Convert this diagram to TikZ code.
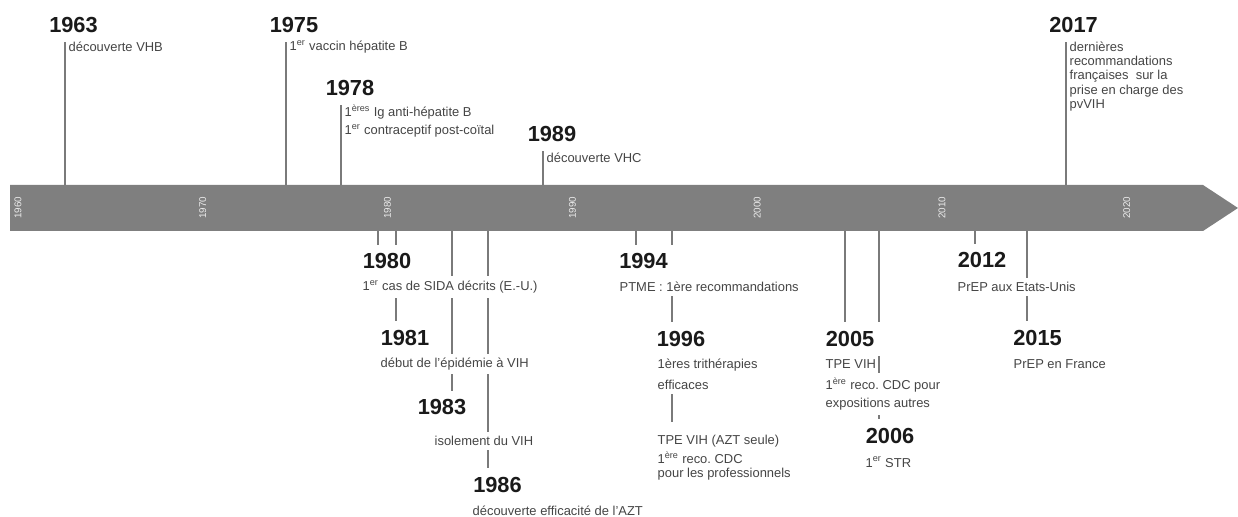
\documentclass[tikz,border=0pt]{standalone}
\usepackage{fontspec}
\setmainfont{Liberation Sans}
\usetikzlibrary{backgrounds}
\definecolor{barc}{HTML}{7F7F7F}
\definecolor{linec}{HTML}{7A7A7A}
\definecolor{yearc}{HTML}{1A1A1A}
\definecolor{descc}{HTML}{454545}
\begin{document}
\begin{tikzpicture}[x=0.025cm, y=-0.025cm,
    year/.style={font=\fontsize{15.5}{18}\selectfont\bfseries, text=yearc, fill=white, inner xsep=5pt, inner ysep=6.5pt},
    desc/.style={font=\fontsize{9.2}{10.2}\selectfont, text=descc, fill=white, anchor=west, align=left, inner xsep=1pt, inner ysep=3pt},
    decade/.style={font=\fontsize{7}{8}\selectfont, text=white!92!black, rotate=90},
    tick/.style={draw=linec, line width=1.8pt}]
    \useasboundingbox (0,0) rectangle (1238,517);

    % Time bar
    \fill[barc] (10,185) -- (1203,185) -- (1238,208) -- (1203,231) -- (10,231) -- cycle;
    \coordinate (bartop) at (0,185);
    \coordinate (barbot) at (0,231);
    \foreach \yr [count=\i from 0] in {1960,1970,...,2020}
        \node[decade] (d\yr) at ({18+184.8*\i},208) {\yr};

    % Events above the bar
    \node[year] (y1963) at (73.5,25.5) {1963};
    \node[desc] (t1963) at (67,47) {découverte VHB};
    \node[year] (y1975) at (294,25.5) {1975};
    \node[desc] (t1975) at (288,47) {1\textsuperscript{er} vaccin hépatite B};
    \node[year] (y1978) at (350,88) {1978};
    \node[desc] (t1978) at (343,121) {1\textsuperscript{ères} Ig anti-hépatite B\\[2.6pt] 1\textsuperscript{er} contraceptif post-coïtal};
    \node[year] (y1989) at (552,134.5) {1989};
    \node[desc] (t1989) at (545,158) {découverte VHC};
    \node[year] (y2017) at (1073.5,25) {2017};
    \node[desc] (t2017) at (1068,76.5) {dernières\\ recommandations\\ françaises\ \ sur la\\ prise en charge des\\ pvVIH};

    % Events below the bar
    \node[year] (y1980) at (387,261.5) {1980};
    \node[desc] (t1980) at (361,287) {1\textsuperscript{er} cas de SIDA décrits (E.-U.)};
    \node[year] (y1981) at (405,337.5) {1981};
    \node[desc] (t1981) at (379,364) {début de l'épidémie à VIH};
    \node[year] (y1983) at (442,407.5) {1983};
    \node[desc] (t1983) at (433,441) {isolement du VIH};
    \node[year] (y1986) at (497.5,484.5) {1986};
    \node[desc] (t1986) at (471,511) {découverte efficacité de l'AZT};
    \node[year] (y1994) at (643.5,261.5) {1994};
    \node[desc] (t1994) at (618,287) {PTME : 1ère recommandations};
    \node[year] (y1996) at (681,338.5) {1996};
    \node[desc] (t1996) at (656,374.5) {1ères trithérapies\\[4.7pt] efficaces};
    \node[desc] (t1996b) at (656,458) {TPE VIH (AZT seule)\\[1.9pt] 1\textsuperscript{ère} reco.\ CDC\\ pour les professionnels};
    \node[year] (y2005) at (850,339) {2005};
    \node[desc] (t2005) at (824,364) {TPE VIH};
    \node[desc] (t2005b) at (824,394) {1\textsuperscript{ère} reco.\ CDC pour\\[2.6pt] expositions autres};
    \node[year] (y2006) at (890,435.5) {2006};
    \node[desc] (t2006) at (864,462) {1\textsuperscript{er} STR};
    \node[year] (y2012) at (982,260.5) {2012};
    \node[desc] (t2012) at (956,287) {PrEP aux Etats-Unis};
    \node[year] (y2015) at (1037.5,338) {2015};
    \node[desc] (t2015) at (1012,364) {PrEP en France};

    % Line ends
    \coordinate (k1963) at (65,40);
    \coordinate (k1975) at (286,40);
    \coordinate (k1978) at (341,100);
    \coordinate (k1989) at (543,150);
    \coordinate (k2017) at (1066,40);
    \coordinate (k1980) at (378,245);
    \coordinate (k1981) at (396,322);
    \coordinate (k1983) at (452,393);
    \coordinate (k1986) at (488,469);
    \coordinate (k1994) at (636,245);
    \coordinate (k1996) at (672,422);
    \coordinate (k2005) at (845,322);
    \coordinate (k2006) at (879,420);
    \coordinate (k2012) at (975,245);
    \coordinate (k2015) at (1027,322);

    % Lines to the bar, behind the labels
    \begin{scope}[on background layer]
        \foreach \k in {1963,1975,1978,1989,2017}
            \draw[tick] (k\k) -- (k\k |- bartop);
        \foreach \k in {1980,1981,1983,1986,1994,1996,2005,2006,2012,2015}
            \draw[tick] (k\k |- barbot) -- (k\k);
    \end{scope}
\end{tikzpicture}
\end{document}
